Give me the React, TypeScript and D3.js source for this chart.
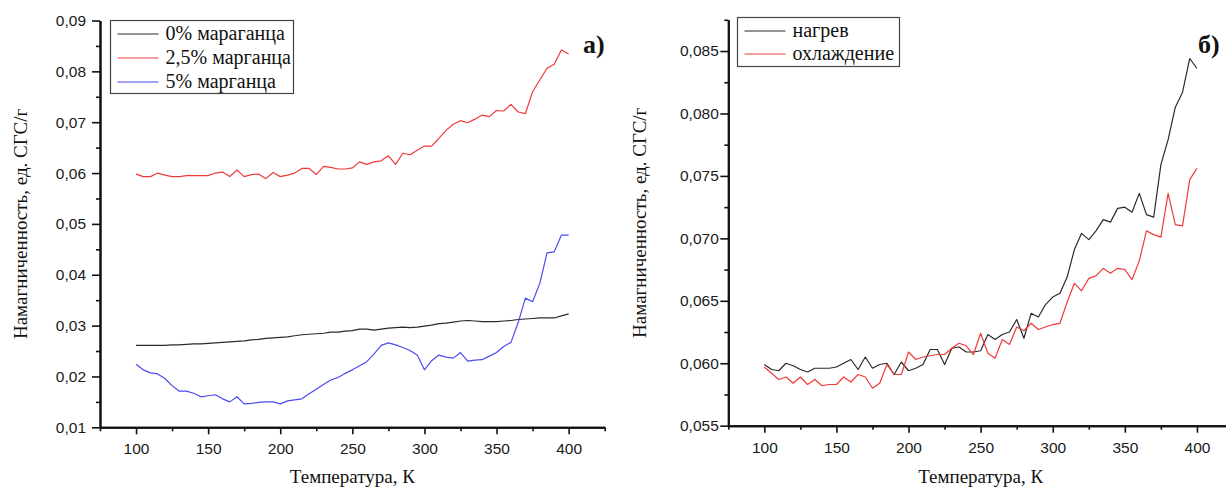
import React, { useEffect, useRef } from "react";
import * as d3 from "d3";

// Temperature grid, K
const temperature = [
  100, 105, 110, 115, 120, 125, 130, 135, 140, 145, 150, 155, 160, 165, 170, 175, 180, 185, 190, 195,
  200, 205, 210, 215, 220, 225, 230, 235, 240, 245, 250, 255, 260, 265, 270, 275, 280, 285, 290, 295,
  300, 305, 310, 315, 320, 325, 330, 335, 340, 345, 350, 355, 360, 365, 370, 375, 380, 385, 390, 395, 400,
];

// Panel a: magnetization for different manganese content, CGS units/g
const mn0 = [
  0.0261, 0.0261, 0.0261, 0.0261, 0.0261, 0.0262, 0.0262, 0.0263, 0.0264, 0.0264, 0.0265, 0.0266, 0.0267, 0.0268, 0.0269, 0.027, 0.0272, 0.0273, 0.0275, 0.0276,
  0.0277, 0.0278, 0.028, 0.0282, 0.0283, 0.0284, 0.0285, 0.0287, 0.0287, 0.0289, 0.029, 0.0293, 0.0293, 0.0291, 0.0293, 0.0295, 0.0296, 0.0297, 0.0296, 0.0297,
  0.0299, 0.0301, 0.0304, 0.0305, 0.0307, 0.0309, 0.031, 0.0309, 0.0308, 0.0308, 0.0308, 0.0309, 0.031, 0.0312, 0.0313, 0.0314, 0.0315, 0.0315, 0.0315, 0.0319, 0.0323,
];
const mn25 = [
  0.0598, 0.0593, 0.0593, 0.06, 0.0596, 0.0593, 0.0593, 0.0595, 0.0595, 0.0595, 0.0595, 0.06, 0.0602, 0.0593, 0.0606, 0.0593, 0.0597, 0.0598, 0.0589, 0.0601,
  0.0593, 0.0596, 0.06, 0.0609, 0.0609, 0.0597, 0.0613, 0.0611, 0.0608, 0.0608, 0.061, 0.0622, 0.0617, 0.0622, 0.0624, 0.0634, 0.0617, 0.0639, 0.0636, 0.0645,
  0.0653, 0.0653, 0.0668, 0.0684, 0.0696, 0.0703, 0.0699, 0.0706, 0.0714, 0.0711, 0.0723, 0.0722, 0.0735, 0.072, 0.0717, 0.076, 0.0783, 0.0806, 0.0814, 0.0842, 0.0834,
];
const mn5 = [
  0.0224, 0.0213, 0.0207, 0.0205, 0.0196, 0.0182, 0.0171, 0.0171, 0.0167, 0.016, 0.0162, 0.0164, 0.0156, 0.015, 0.016, 0.0146, 0.0147, 0.0149, 0.015, 0.015,
  0.0146, 0.0152, 0.0154, 0.0156, 0.0166, 0.0175, 0.0184, 0.0193, 0.0198, 0.0206, 0.0213, 0.0221, 0.0229, 0.0244, 0.0261, 0.0266, 0.0262, 0.0257, 0.0251, 0.0242,
  0.0213, 0.0231, 0.0242, 0.0238, 0.0236, 0.0247, 0.023, 0.0232, 0.0233, 0.024, 0.0247, 0.0259, 0.0267, 0.0306, 0.0354, 0.0347, 0.0383, 0.0443, 0.0445, 0.0478, 0.0478,
];

// Panel б: heating and cooling runs
const heating = [
  0.0599, 0.0595, 0.0594, 0.06, 0.0598, 0.0595, 0.0593, 0.0596, 0.0596, 0.0596, 0.0597, 0.06, 0.0603, 0.0595, 0.0605, 0.0596, 0.0599, 0.06, 0.0591, 0.0601,
  0.0594, 0.0596, 0.0599, 0.0611, 0.0611, 0.0599, 0.0612, 0.0613, 0.0609, 0.0609, 0.061, 0.0623, 0.0619, 0.0623, 0.0625, 0.0635, 0.062, 0.064, 0.0637, 0.0647,
  0.0653, 0.0656, 0.0669, 0.0691, 0.0704, 0.0699, 0.0706, 0.0715, 0.0713, 0.0724, 0.0725, 0.0721, 0.0736, 0.0719, 0.0717, 0.0759, 0.0779, 0.0805, 0.0817, 0.0844, 0.0836,
];
const cooling = [
  0.0597, 0.0592, 0.0587, 0.0589, 0.0584, 0.0589, 0.0583, 0.0587, 0.0582, 0.0583, 0.0583, 0.0589, 0.0585, 0.0591, 0.0589, 0.058, 0.0584, 0.0599, 0.0591, 0.0591,
  0.0609, 0.0603, 0.0605, 0.0606, 0.0607, 0.0607, 0.0612, 0.0616, 0.0614, 0.0607, 0.0624, 0.0608, 0.0604, 0.0619, 0.0615, 0.0629, 0.0626, 0.0632, 0.0627, 0.0629,
  0.0631, 0.0632, 0.0649, 0.0664, 0.0658, 0.0668, 0.067, 0.0676, 0.0672, 0.0676, 0.0675, 0.0667, 0.0682, 0.0706, 0.0703, 0.0701, 0.0736, 0.0711, 0.071, 0.0747, 0.0756,
];

// Axis ticks
const xMajorTicks = [100, 150, 200, 250, 300, 350, 400];
const xMinorTicks = [75, 125, 175, 225, 275, 325, 375, 425];
const yMajorTicksA = [0.01, 0.02, 0.03, 0.04, 0.05, 0.06, 0.07, 0.08, 0.09];
const yMinorTicksA = [0.015, 0.025, 0.035, 0.045, 0.055, 0.065, 0.075, 0.085];
const yMajorTicksB = [0.055, 0.06, 0.065, 0.07, 0.075, 0.08, 0.085];
const yMinorTicksB = [0.0575, 0.0625, 0.0675, 0.0725, 0.0775, 0.0825, 0.0875];

const legendA = ["0% мараганца", "2,5% марганца", "5% марганца"];
const legendB = ["нагрев", "охлаждение"];

const BLACK = "#2a2a2a";
const RED = "#f03a3a";
const BLUE = "#4b4bf0";

const SERIF = "'Liberation Serif', 'Times New Roman', serif";
const SANS = "'Liberation Sans', Arial, sans-serif";

const ruLocale = d3.formatLocale({ decimal: ",", thousands: "\u00a0", grouping: [3], currency: ["", ""] });

type Series = { values: number[]; color: string };
type PanelCfg = {
  left: number;
  right: number;
  top: number;
  bottom: number;
  yDomain: [number, number];
  yMajor: number[];
  yMinor: number[];
  yFormat: string;
  yPad: number;
  series: Series[];
  legend: { labels: string[]; colors: string[]; x: number; y: number; w: number; h: number; rowGap: number };
  letter: { text: string; x: number; y: number };
  yTitleX: number;
};

const panels: PanelCfg[] = [
  {
    left: 100,
    right: 604.7,
    top: 20.5,
    bottom: 427.3,
    yDomain: [0.01, 0.09],
    yMajor: yMajorTicksA,
    yMinor: yMinorTicksA,
    yFormat: ".2f",
    yPad: 6,
    series: [
      { values: mn0, color: BLACK },
      { values: mn25, color: RED },
      { values: mn5, color: BLUE },
    ],
    legend: { labels: legendA, colors: [BLACK, RED, BLUE], x: 110.5, y: 20.5, w: 183, h: 73, rowGap: 24 },
    letter: { text: "а)", x: 583, y: 53 },
    yTitleX: 27,
  },
  {
    left: 728.3,
    right: 1233,
    top: 19.8,
    bottom: 425.7,
    yDomain: [0.055, 0.0875],
    yMajor: yMajorTicksB,
    yMinor: yMinorTicksB,
    yFormat: ".3f",
    yPad: 1.5,
    series: [
      { values: heating, color: BLACK },
      { values: cooling, color: RED },
    ],
    legend: { labels: legendB, colors: [BLACK, RED], x: 737.5, y: 17.5, w: 162, h: 49, rowGap: 23 },
    letter: { text: "б)", x: 1198, y: 53 },
    yTitleX: 646,
  },
];

function drawPanel(svg: d3.Selection<SVGSVGElement, unknown, null, undefined>, p: PanelCfg) {
  const x = d3.scaleLinear().domain([75, 425]).range([p.left, p.right]);
  const y = d3.scaleLinear().domain(p.yDomain).range([p.bottom, p.top]);
  const g = svg.append("g");

  // data lines
  const line = d3
    .line<number>()
    .x((_, i) => x(temperature[i]))
    .y((v) => y(v));
  p.series.forEach((s) => {
    g.append("path")
      .attr("d", line(s.values) ?? "")
      .attr("fill", "none")
      .attr("stroke", s.color)
      .attr("stroke-width", 1.2)
      .attr("stroke-linejoin", "round");
  });

  // x axis: minor then major ticks
  const xMinorAxis = d3.axisBottom(x).tickValues(xMinorTicks).tickSize(4).tickSizeOuter(0).tickFormat(() => "");
  const xMajorAxis = d3
    .axisBottom(x)
    .tickValues(xMajorTicks)
    .tickSize(7)
    .tickSizeOuter(0)
    .tickPadding(9)
    .tickFormat((d) => String(d));
  const gxMinor = g.append("g").attr("transform", `translate(0,${p.bottom})`).call(xMinorAxis);
  const gx = g.append("g").attr("transform", `translate(0,${p.bottom})`).call(xMajorAxis);

  // y axis
  const fmt = ruLocale.format(p.yFormat);
  const yMinorAxis = d3.axisLeft(y).tickValues(p.yMinor).tickSize(4).tickSizeOuter(0).tickFormat(() => "");
  const yMajorAxis = d3
    .axisLeft(y)
    .tickValues(p.yMajor)
    .tickSize(8)
    .tickSizeOuter(0)
    .tickPadding(p.yPad)
    .tickFormat((d) => fmt(d as number));
  const gyMinor = g.append("g").attr("transform", `translate(${p.left},0)`).call(yMinorAxis);
  const gy = g.append("g").attr("transform", `translate(${p.left},0)`).call(yMajorAxis);

  [gxMinor, gx, gyMinor, gy].forEach((a) => {
    a.select(".domain").attr("stroke", "#111").attr("stroke-width", 2);
    a.selectAll(".tick line").attr("stroke", "#111").attr("stroke-width", 1.6);
    a.selectAll(".tick text")
      .attr("fill", "#1a1a1a")
      .style("font-family", SANS)
      .style("font-size", "15.5px");
  });

  // legend
  const lg = p.legend;
  g.append("rect")
    .attr("x", lg.x)
    .attr("y", lg.y)
    .attr("width", lg.w)
    .attr("height", lg.h)
    .attr("fill", "#fff")
    .attr("stroke", "#444")
    .attr("stroke-width", 1.2);
  lg.labels.forEach((label, i) => {
    const cy = lg.y + 13.5 + i * lg.rowGap;
    g.append("line")
      .attr("x1", lg.x + 7)
      .attr("x2", lg.x + 48)
      .attr("y1", cy)
      .attr("y2", cy)
      .attr("stroke", lg.colors[i])
      .attr("stroke-width", 1.2);
    g.append("text")
      .attr("x", lg.x + 55)
      .attr("y", cy + 6)
      .attr("fill", "#111")
      .style("font-family", SERIF)
      .style("font-size", "20px")
      .text(label);
  });

  // panel letter
  g.append("text")
    .attr("x", p.letter.x)
    .attr("y", p.letter.y)
    .attr("fill", "#111")
    .style("font-family", SERIF)
    .style("font-weight", "bold")
    .style("font-size", "26px")
    .text(p.letter.text);

  // axis titles
  g.append("text")
    .attr("x", (p.left + p.right) / 2)
    .attr("y", 483)
    .attr("text-anchor", "middle")
    .attr("fill", "#111")
    .style("font-family", SERIF)
    .style("font-size", "19px")
    .text("Температура, К");
  g.append("text")
    .attr("transform", `translate(${p.yTitleX},${(p.top + p.bottom) / 2}) rotate(-90)`)
    .attr("text-anchor", "middle")
    .attr("fill", "#111")
    .style("font-family", SERIF)
    .style("font-size", "19px")
    .text("Намагниченность, ед. СГС/г");
}

export default function App() {
  const ref = useRef<SVGSVGElement>(null);
  useEffect(() => {
    if (!ref.current) return;
    const svg = d3.select(ref.current);
    svg.selectAll("*").remove();
    panels.forEach((p) => drawPanel(svg, p));
  }, []);
  return (
    <svg
      ref={ref}
      width={1226}
      height={489}
      style={{ position: "absolute", left: 0, top: 0, background: "#fff", display: "block" }}
    />
  );
}
